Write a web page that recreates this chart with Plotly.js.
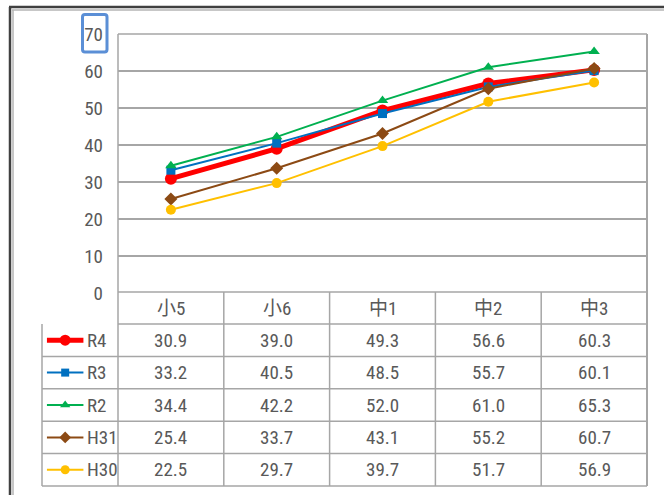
<!DOCTYPE html>
<html>
<head>
<meta charset="utf-8">
<script src="https://cdn.plot.ly/plotly-3.0.1.min.js"></script>
<style>html,body{margin:0;padding:0;background:#fff;}#chart{width:664px;height:495px;}</style>
</head>
<body>
<div id="chart"></div>
<script>
// ---- data ----
const categories = ['小5', '小6', '中1', '中2', '中3'];
const seriesNames = ['R4', 'R3', 'R2', 'H31', 'H30'];
const R4  = [30.9, 39.0, 49.3, 56.6, 60.3];
const R3  = [33.2, 40.5, 48.5, 55.7, 60.1];
const R2  = [34.4, 42.2, 52.0, 61.0, 65.3];
const H31 = [25.4, 33.7, 43.1, 55.2, 60.7];
const H30 = [22.5, 29.7, 39.7, 51.7, 56.9];
const yTicks = [0, 10, 20, 30, 40, 50, 60, 70];

// ---- styles ----
const seriesValues = [R4, R3, R2, H31, H30];
const styles = [
  {color: '#FF0000', width: 5, symbol: 'circle', size: 12, ksize: 11},
  {color: '#0070C0', width: 2, symbol: 'square', size: 9, ksize: 8},
  {color: '#00B050', width: 2, symbol: 'triangle-up', size: 10, ksize: 9},
  {color: '#8C4A14', width: 2, symbol: 'diamond', size: 10, ksize: 9},
  {color: '#FFC000', width: 2, symbol: 'circle', size: 10, ksize: 9}
];

const W = 664, H = 495;
const px = x => x / W;
const py = y => 1 - y / H;
const plotL = 118, plotR = 647, plotT = 34, plotB = 293;
const tableTop = 292, headerBot = 324, tableBot = 486, legL = 42;
const rowH = (tableBot - headerBot) / 5;
const gridCol = '#A6A6A6';
const txtCol = '#595959';
const font = 'Roboto Condensed, Noto Sans CJK JP, sans-serif';
const fs = 19;

const traces = [];
seriesValues.forEach((vals, i) => {
  const s = styles[i];
  traces.push({
    type: 'scatter', mode: 'lines+markers', name: seriesNames[i],
    x: categories, y: vals, xaxis: 'x', yaxis: 'y',
    line: {color: s.color, width: s.width},
    marker: {color: s.color, symbol: s.symbol, size: s.size, line: {width: 0}},
    hoverinfo: 'skip', cliponaxis: false
  });
});
// legend keys inside table (second axes)
seriesValues.forEach((vals, i) => {
  const s = styles[i];
  traces.push({
    type: 'scatter', mode: 'lines', x: [0.065, 0.545], y: [i + 0.5, i + 0.5],
    xaxis: 'x2', yaxis: 'y2', line: {color: s.color, width: s.width}, hoverinfo: 'skip'
  });
  traces.push({
    type: 'scatter', mode: 'markers', x: [0.305], y: [i + 0.5],
    xaxis: 'x2', yaxis: 'y2',
    marker: {color: s.color, symbol: s.symbol, size: s.ksize, line: {width: 0}}, hoverinfo: 'skip'
  });
});

const shapes = [];
const line = (x0, y0, x1, y1, color, width) => shapes.push({
  type: 'line', xref: 'paper', yref: 'paper', x0: px(x0), y0: py(y0), x1: px(x1), y1: py(y1),
  line: {color: color, width: width}, layer: 'above'
});
// outer frame
line(9, 7, W, 7, '#404040', 2.5);
line(12, 10, W, 10, '#B5B5B5', 1.5);
line(10, 7, 10, H, '#404040', 2.5);
line(13, 10, 13, H, '#B5B5B5', 1.5);
// plot frame
line(plotL, plotT, plotR, plotT, gridCol, 1.5);
line(plotL, plotT, plotL, tableBot, gridCol, 1.5);
line(plotR, plotT, plotR, tableBot, gridCol, 2);
// table
line(plotL, tableTop, plotR, tableTop, gridCol, 1.5);
line(plotL, headerBot, plotR, headerBot, gridCol, 1.5);
for (let r = 1; r <= 5; r++) line(legL, headerBot + r * rowH, plotR, headerBot + r * rowH, gridCol, 1.5);
line(legL, headerBot, legL, tableBot, gridCol, 1.5);
for (let c = 1; c < categories.length; c++) {
  shapes.push({type: 'line', xref: 'x', yref: 'paper', x0: c - 0.5, x1: c - 0.5,
    y0: py(tableTop), y1: py(tableBot), line: {color: gridCol, width: 1.5}, layer: 'above'});
}
// blue selection box around "70"
shapes.push({type: 'path', xref: 'paper', yref: 'paper',
  path: (() => {
    const x0 = px(82.5), x1 = px(107), y0 = py(52), y1 = py(14.5), rx = 2.5 / W, ry = 2.5 / H;
    return `M${x0 + rx},${y1} L${x1 - rx},${y1} Q${x1},${y1} ${x1},${y1 - ry} L${x1},${y0 + ry} Q${x1},${y0} ${x1 - rx},${y0} L${x0 + rx},${y0} Q${x0},${y0} ${x0},${y0 + ry} L${x0},${y1 - ry} Q${x0},${y1} ${x0 + rx},${y1} Z`;
  })(),
  line: {color: '#5B8FD6', width: 3}, layer: 'above'});

const annotations = [];
categories.forEach((c, j) => {
  annotations.push({xref: 'x', yref: 'paper', x: c, y: py((tableTop + headerBot) / 2),
    text: c, showarrow: false, font: {family: font, size: fs, color: txtCol}, xanchor: 'center', yanchor: 'middle'});
});
seriesValues.forEach((vals, i) => {
  const yc = py(headerBot + (i + 0.5) * rowH);
  vals.forEach((v, j) => {
    annotations.push({xref: 'x', yref: 'paper', x: categories[j], y: yc,
      text: v.toFixed(1), showarrow: false, font: {family: font, size: fs, color: txtCol}, xanchor: 'center', yanchor: 'middle'});
  });
  annotations.push({xref: 'x2', yref: 'paper', x: 0.57, y: yc, text: seriesNames[i], showarrow: false,
    font: {family: font, size: fs, color: txtCol}, xanchor: 'left', yanchor: 'middle'});
});

const layout = {
  width: W, height: H, margin: {l: 0, r: 0, t: 0, b: 0},
  paper_bgcolor: '#fff', plot_bgcolor: '#fff', showlegend: false,
  xaxis: {domain: [px(plotL), px(plotR)], type: 'category', range: [-0.5, 4.5],
    showgrid: false, zeroline: false, showline: false, showticklabels: false, ticks: '', fixedrange: true},
  yaxis: {domain: [py(plotB), py(plotT)], range: [0, 70], tickvals: yTicks, ticktext: yTicks.map(String),
    showgrid: true, gridcolor: gridCol, gridwidth: 1.5, zeroline: false, showline: false, ticks: '',
    ticklabelstandoff: 14, tickfont: {family: font, size: fs, color: txtCol}, fixedrange: true},
  xaxis2: {domain: [px(legL), px(plotL)], range: [0, 1], visible: false, fixedrange: true},
  yaxis2: {domain: [py(tableBot), py(headerBot)], range: [5, 0], visible: false, fixedrange: true},
  shapes: shapes, annotations: annotations
};

Plotly.newPlot('chart', traces, layout, {staticPlot: true, displayModeBar: false});
</script>
</body>
</html>
